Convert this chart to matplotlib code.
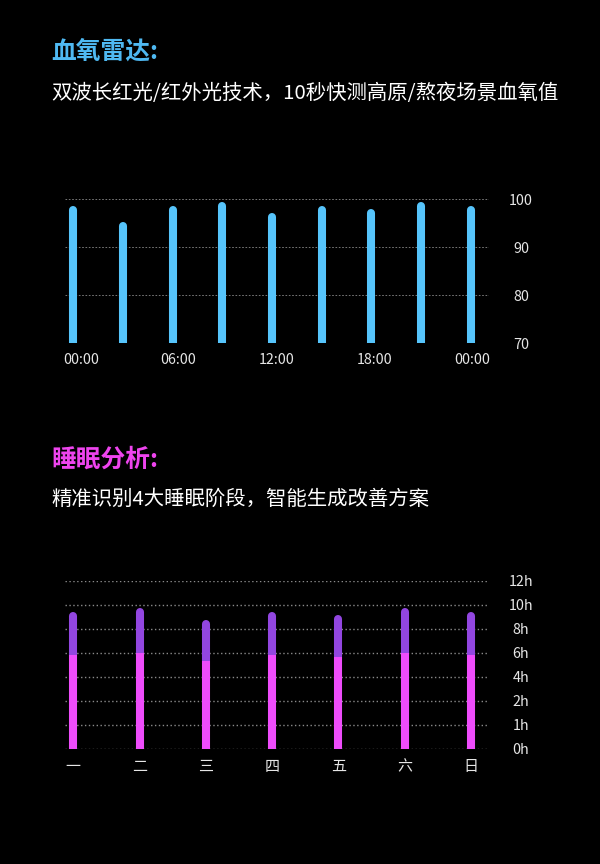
import numpy as np
import matplotlib
matplotlib.use("Agg")
import matplotlib.pyplot as plt

plt.rcParams['font.family'] = ['Noto Sans CJK SC', 'DejaVu Sans']

# 血氧数据
spo2_values = [97.8, 94.5, 97.8, 98.7, 96.3, 97.8, 97.1, 98.7, 97.8]
spo2_ticks = [70, 80, 90, 100]
time_labels = ["00:00", "06:00", "12:00", "18:00", "00:00"]

# 睡眠数据（小时）
days = ["一", "二", "三", "四", "五", "六", "日"]
light_sleep = [5.83, 6.0, 5.36, 5.83, 5.64, 6.0, 5.83]
total_sleep = [9.1, 9.4, 8.4, 9.1, 8.8, 9.4, 9.1]
hour_ticks = [0, 1, 2, 4, 6, 8, 10, 12]
hour_labels = ["0h", "1h", "2h", "4h", "6h", "8h", "10h", "12h"]

BG = "#000000"
BLUE = "#56c4fb"
PURPLE = "#9246e0"
MAGENTA = "#ee4cfb"
TEXT = "#e6e6e6"

fig = plt.figure(figsize=(6, 8.64), dpi=100, facecolor=BG)

# 标题
fig.text(51 / 600, 1 - 52 / 864, "血氧雷达:", color="#4fb9f2", fontsize=17.8,
         fontweight="bold", va="center", ha="left")
fig.text(51 / 600, 1 - 93 / 864, "双波长红光/红外光技术，10秒快测高原/熬夜场景血氧值",
         color="#ffffff", fontsize=14.7, va="center", ha="left")
fig.text(51 / 600, 1 - 460 / 864, "睡眠分析:", color="#ee44ee", fontsize=17.8,
         fontweight="bold", va="center", ha="left")
fig.text(51 / 600, 1 - 499 / 864, "精准识别4大睡眠阶段，智能生成改善方案",
         color="#ffffff", fontsize=14.7, va="center", ha="left")

# ---- 血氧图 ----
ax1 = fig.add_axes([65 / 600, 1 - 343.3 / 864, 424 / 600, 144 / 864])
ax1.set_facecolor(BG)
x1 = np.arange(len(spo2_values))
ax1.vlines(x1, 60, spo2_values, colors=BLUE, linewidth=5.8, capstyle="round", zorder=3)
ax1.set_xlim(-0.167, len(spo2_values) - 1 + 0.368)
ax1.set_ylim(70, 100)
ax1.set_yticks(spo2_ticks)
ax1.yaxis.tick_right()
ax1.yaxis.grid(True, color="#8a8a8a", linestyle=(0, (2, 2)), linewidth=0.6)
ax1.set_xticks(np.linspace(0.15, 8.03, len(time_labels)))
ax1.set_xticklabels(time_labels)
ax1.tick_params(axis="y", length=0, pad=23, labelsize=10.3, labelcolor=TEXT)
ax1.tick_params(axis="x", length=0, pad=7, labelsize=10.3, labelcolor=TEXT)
for lbl in ax1.get_yticklabels():
    lbl.set_horizontalalignment("center")
for s in ax1.spines.values():
    s.set_visible(False)

# ---- 睡眠图 ----
ax2 = fig.add_axes([65 / 600, 1 - 749 / 864, 424 / 600, 168 / 864])
ax2.set_facecolor(BG)


def fwd(v):
    return np.interp(v, hour_ticks, np.arange(len(hour_ticks)))


def inv(v):
    return np.interp(v, np.arange(len(hour_ticks)), hour_ticks)


ax2.set_yscale("function", functions=(fwd, inv))
x2 = np.arange(len(days))
ax2.vlines(x2, light_sleep, total_sleep, colors=PURPLE, linewidth=5.8,
           capstyle="round", zorder=3)
ax2.vlines(x2, -1, light_sleep, colors=MAGENTA, linewidth=5.8,
           capstyle="butt", zorder=4)
ax2.set_xlim(-0.125, len(days) - 1 + 0.27)
ax2.set_ylim(0, 12)
ax2.set_yticks(hour_ticks)
ax2.set_yticklabels(hour_labels)
ax2.yaxis.set_minor_locator(matplotlib.ticker.NullLocator())
ax2.yaxis.tick_right()
ax2.yaxis.grid(True, color="#8a8a8a", linestyle=(0, (1, 1.8)), linewidth=1.0)
ax2.set_xticks(x2)
ax2.set_xticklabels(days)
ax2.tick_params(axis="y", length=0, pad=23, labelsize=10.3, labelcolor=TEXT)
ax2.tick_params(axis="x", length=0, pad=8, labelsize=10.8, labelcolor=TEXT)
for lbl in ax2.get_yticklabels():
    lbl.set_horizontalalignment("center")
for s in ax2.spines.values():
    s.set_visible(False)

fig.savefig("out.png", dpi=100, facecolor=BG)
